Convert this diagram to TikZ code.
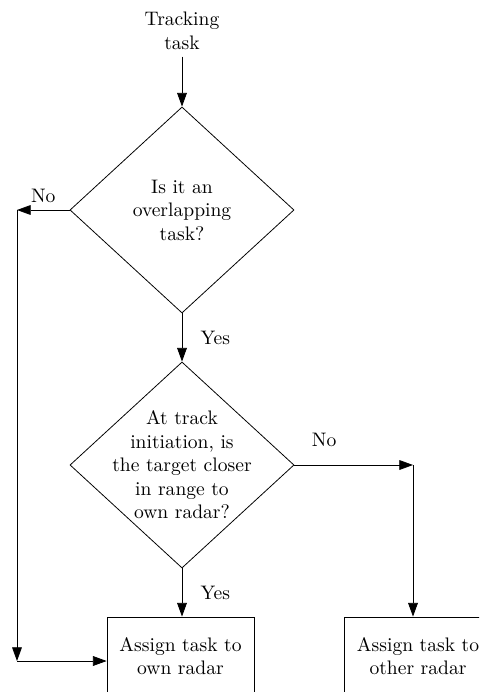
\documentclass[tikz,border=0pt]{standalone}
\usepackage{amsmath}
\usepackage{tikz}
\usetikzlibrary{shapes.geometric, arrows.meta}

\begin{document}
\begin{tikzpicture}[x=0.511pt, y=-0.511pt,
    decision/.style={draw, diamond, minimum width=114.5pt, minimum height=105.3pt, inner sep=0pt},
    action/.style={draw, rectangle, minimum width=75.1pt, minimum height=39.9pt, align=center},
    flow/.style={-{Triangle[length=7pt, width=5pt]}}]
  % Page size (the two boxes at the bottom are cut off)
  \clip (0,0) rectangle (479,692);

  % Define the nodes
  \node[align=center] (start) at (182,31) {Tracking\\task};
  \node[decision, label={[align=center]center:Is it an\\overlapping\\task?}] (q1) at (182,210) {};
  \node[decision, label={[align=center]center:At track\\initiation, is\\the target closer\\in range to\\own radar?}] (q2) at (182,465) {};
  \node[action] (own) at (180.5,656) {Assign task to\\own radar};
  \node[action] (other) at (418,656) {Assign task to\\other radar};

  % Corners of the connectors
  \coordinate (noleft) at (17,210);
  \coordinate (nodown) at (17,661);
  \coordinate (noright) at (413,465);

  % Draw the connectors
  \draw[flow] (start.south) -- (q1.north);
  \draw[flow] (q1.west) -- node[above]{No} (noleft);
  \draw[flow] (noleft) -- (nodown);
  \draw[flow] (nodown) -- (nodown -| own.west);
  \draw[flow] (q1.south) -- node[right=6pt]{Yes} (q2.north);
  \draw[flow] (q2.east) -- node[pos=0.25, above=6pt]{No} (noright);
  \draw[flow] (noright) -- (noright |- other.north);
  \draw[flow] (q2.south) -- node[right=6pt]{Yes} (q2.south |- own.north);

\end{tikzpicture}
\end{document}
